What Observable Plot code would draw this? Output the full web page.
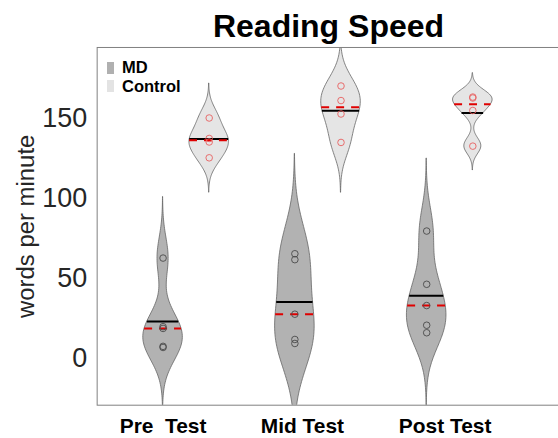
<!DOCTYPE html>
<html><head><meta charset="utf-8">
<script src="https://cdn.jsdelivr.net/npm/d3@7"></script>
<script src="https://cdn.jsdelivr.net/npm/@observablehq/plot@0.6"></script>
<style>
html,body{margin:0;padding:0;background:#fff;overflow:hidden;width:558px;height:438px;}
#wrap{position:relative;width:558px;height:438px;overflow:hidden;font-family:"Liberation Sans",Arial,Helvetica,sans-serif;}
#title{height:40px;line-height:52px;font-size:32px;font-weight:bold;text-align:center;width:657px;color:#000;white-space:nowrap;}
#chart svg text{white-space:pre;}
.sw{position:absolute;width:7px;height:12px;}
.lt{position:absolute;left:122px;font-size:16.5px;line-height:16.5px;font-weight:bold;color:#000;}
</style>
</head><body>
<div id="wrap">
  <div id="title">Reading Speed</div>
  <div id="chart"></div>
  <div class="sw" style="left:106.5px;top:61.5px;background:#b0b0b0;"></div>
  <div class="lt" style="top:59.3px;">MD</div>
  <div class="sw" style="left:106.5px;top:80px;background:#e3e3e3;"></div>
  <div class="lt" style="top:78.3px;">Control</div>
</div>
<script>
// ---- data ----
const tests = ["Pre  Test", "Mid Test", "Post Test"];
const groups = ["MD", "Control"];
const mdPre  = [62.7, 19.8, 18.7, 7.5, 6.8];
const mdMid  = [65.4, 61.7, 27.6, 11.8, 9.3];
const mdPost = [79.6, 46.3, 33.0, 20.7, 16.0];
const ctlPre  = [150.3, 137.5, 135.3, 125.4];
const ctlMid  = [170.3, 161.2, 152.8, 135.0];
const ctlPost = [163.4, 162.8, 155.0, 132.7];
const yTicks = [0, 50, 100, 150];
const yLabel = "words per minute";

const series = [
  {test: 0, group: "MD", values: mdPre},
  {test: 1, group: "MD", values: mdMid},
  {test: 2, group: "MD", values: mdPost},
  {test: 0, group: "Control", values: ctlPre},
  {test: 1, group: "Control", values: ctlMid},
  {test: 2, group: "Control", values: ctlPost}
];

// layout constants (category slot offsets, label nudges as in the original figure)
const groupOffset = {MD: 0, Control: 0.35};
const halfWidth = 0.15;
const labelNudge = [0, 0.057, 0.14];

// MATLAB ksdensity defaults: gaussian kernel, robust Silverman bandwidth, 100 points over [min-3bw, max+3bw]
function kde(values) {
  const n = values.length;
  const med = d3.median(values);
  const mad = d3.median(values, v => Math.abs(v - med));
  const bw = (mad / 0.6745) * Math.pow(4 / (3 * n), 0.2);
  const f = t => d3.sum(values, v => Math.exp(-0.5 * ((t - v) / bw) ** 2)) / (n * bw * Math.sqrt(2 * Math.PI));
  const lo = d3.min(values) - 3 * bw, hi = d3.max(values) + 3 * bw;
  const grid = d3.range(100).map(i => lo + (hi - lo) * i / 99);
  const dens = grid.map(f);
  return {grid, dens, max: d3.max(dens), f};
}

const violinRows = [];
const stats = [];
const pts = [];
series.forEach((s, k) => {
  const c = s.test + 1 + groupOffset[s.group];
  const K = kde(s.values);
  K.grid.forEach((v, i) => {
    const w = halfWidth * K.dens[i] / K.max;
    violinRows.push({key: k, group: s.group, v, x1: c - w, x2: c + w});
  });
  const mean = d3.mean(s.values), median = d3.median(s.values);
  const wm = halfWidth * K.f(mean) / K.max, wd = halfWidth * K.f(median) / K.max;
  stats.push({group: s.group, mean, median, m1: c - wm, m2: c + wm, d1: c - wd, d2: c + wd});
  s.values.forEach(v => pts.push({group: s.group, x: c, v}));
});

const chart = Plot.plot({
  width: 560, height: 398,
  marginTop: 7, marginBottom: 32, marginLeft: 97, marginRight: 0,
  x: {domain: [0.5, 4.0], axis: null},
  y: {domain: [-29.3, 194.4]},
  color: {domain: groups, range: ["#b2b2b2", "#e5e5e5"]},
  style: {fontFamily: "'Liberation Sans', Arial, Helvetica, sans-serif", color: "#262626", background: "white"},
  marks: [
    Plot.areaX(violinRows, {y: "v", x1: "x1", x2: "x2", z: "key", fill: "group", stroke: "#666666", strokeWidth: 0.8, clip: true, curve: "linear"}),
    Plot.ruleY(stats, {y: "mean", x1: "m1", x2: "m2", stroke: "#000000", strokeWidth: 2, clip: true}),
    Plot.ruleY(stats, {y: "median", x1: "d1", x2: "d2", stroke: "#e00000", strokeWidth: 2, strokeDasharray: "8,7", clip: true}),
    Plot.dot(pts.filter(d => d.group === "MD"), {x: "x", y: "v", r: 3.3, stroke: "#4a4a4a", strokeWidth: 0.9}),
    Plot.dot(pts.filter(d => d.group === "Control"), {x: "x", y: "v", r: 3.3, stroke: "#e86060", strokeWidth: 0.9}),
    Plot.frame({stroke: "#808080", strokeWidth: 1}),
    Plot.axisY({ticks: yTicks, tickSize: 0, tickPadding: 10, fontSize: 27, label: null, fill: "#262626"}),
    Plot.text(tests, {x: (d, i) => i + 1 + labelNudge[i], frameAnchor: "bottom", lineAnchor: "top", dy: 13, fontSize: 21, fontWeight: "bold", fill: "#000"}),
    Plot.text([yLabel], {frameAnchor: "left", textAnchor: "middle", rotate: -90, dx: -71, fontSize: 24, fill: "#262626"})
  ]
});
document.getElementById("chart").appendChild(chart);
</script>
</body></html>
